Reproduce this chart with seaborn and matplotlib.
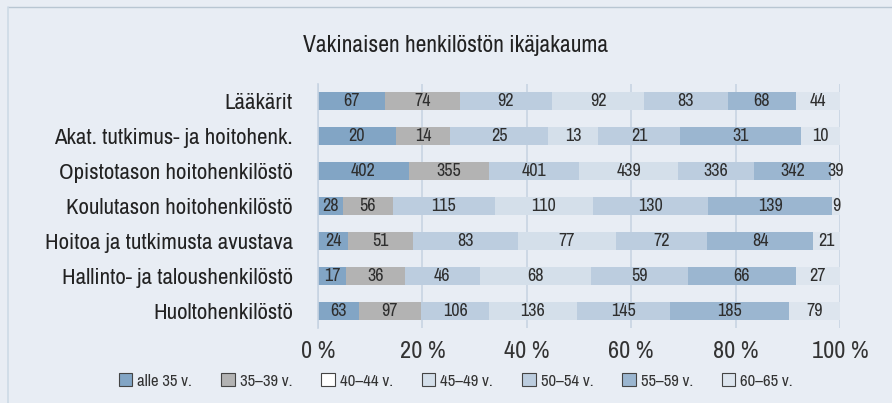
import matplotlib.pyplot as plt
import matplotlib.patches as mpatches
import numpy as np
import pandas as pd
import seaborn as sns

title = 'Vakinaisen henkilöstön ikäjakauma'
groups = ['Lääkärit', 'Akat. tutkimus- ja hoitohenk.', 'Opistotason hoitohenkilöstö',
          'Koulutason hoitohenkilöstö', 'Hoitoa ja tutkimusta avustava',
          'Hallinto- ja taloushenkilöstö', 'Huoltohenkilöstö']
ages = ['alle 35 v.', '35–39 v.', '40–44 v.', '45–49 v.', '50–54 v.', '55–59 v.', '60–65 v.']
alle35 = [67, 20, 402, 28, 24, 17, 63]
v35_39 = [74, 14, 355, 56, 51, 36, 97]
v40_44 = [92, 25, 401, 115, 83, 46, 106]
v45_49 = [92, 13, 439, 110, 77, 68, 136]
v50_54 = [83, 21, 336, 130, 72, 59, 145]
v55_59 = [68, 31, 342, 139, 84, 66, 185]
v60_65 = [44, 10, 39, 9, 21, 27, 79]
xticks = [0, 20, 40, 60, 80, 100]

colors = ['#82a5c5', '#b3b3b3', '#bccddf', '#d4dfea', '#bccddf', '#9bb6d0', '#dde5ee']
legend_colors = ['#82a5c5', '#b3b3b3', '#ffffff', '#d4dfea', '#bccddf', '#9bb6d0', '#dde5ee']
bg = '#e8edf4'
grid = '#c8d4e2'

counts = pd.DataFrame(dict(zip(ages, [alle35, v35_39, v40_44, v45_49, v50_54, v55_59, v60_65])),
                      index=groups)
share = counts.div(counts.sum(axis=1), axis=0) * 100
cum = share.cumsum(axis=1)

sns.set_style('white')
plt.rcParams['font.family'] = ['Archivo Narrow', 'DejaVu Sans']

fig = plt.figure(figsize=(8.92, 4.03), dpi=100, facecolor=bg)
ax = fig.add_axes([318 / 892, 1 - 328 / 403, 522 / 892, 244 / 403])
ax.set_facecolor(bg)

# overdraw cumulative bars, widest first
for age, col in reversed(list(zip(ages, colors))):
    d = pd.DataFrame({'group': groups, 'val': cum[age].values})
    sns.barplot(data=d, x='val', y='group', orient='h', color=col, width=0.52,
                saturation=1, ax=ax, zorder=2, linewidth=0)

for i, g in enumerate(groups):
    for age in ages:
        c = cum.loc[g, age] - share.loc[g, age] / 2
        ax.text(c, i, str(counts.loc[g, age]), ha='center', va='center',
                fontsize=13, color='#2e2e2e', zorder=3)

ax.set_xlim(0, 100)
ax.set_ylim(6.5, -0.5)
ax.set_xticks(xticks)
ax.set_xticklabels([f'{t} %' for t in xticks], fontsize=17.5, color='#333333')
ax.tick_params(axis='x', length=0, pad=9)
ax.set_yticks(range(len(groups)))
ax.set_yticklabels(groups, fontsize=16.5, color='#222222')
ax.tick_params(axis='y', which='major', length=0, pad=18)
ax.set_yticks(np.arange(-0.5, len(groups), 1), minor=True)
ax.tick_params(axis='y', which='minor', length=6, color=grid, width=1)
ax.set_xlabel('')
ax.set_ylabel('')
for x in xticks:
    ax.axvline(x, color=grid, lw=1.2, zorder=1)
for s in ['top', 'right', 'bottom']:
    ax.spines[s].set_visible(False)
ax.spines['left'].set_color(grid)
ax.spines['left'].set_linewidth(1.2)

fig.text(456 / 892, 1 - 45 / 403, title, ha='center', va='center', fontsize=17, color='#222222')

handles = [mpatches.Patch(facecolor=c, edgecolor='#444444', linewidth=0.8, label=a)
           for a, c in zip(ages, legend_colors)]
fig.legend(handles=handles, loc='center', bbox_to_anchor=(456 / 892, 1 - 381 / 403), ncol=7,
           frameon=False, fontsize=12, handlelength=0.8, handleheight=0.8,
           handletextpad=0.3, columnspacing=1.75, labelcolor='#333333')

# panel border: top and left edge only
fig.add_artist(plt.Line2D([8 / 892, 1], [1 - 7 / 403, 1 - 7 / 403], color='#b8c6d2', lw=1))
fig.add_artist(plt.Line2D([8 / 892, 8 / 892], [0, 1 - 7 / 403], color='#cddae6', lw=1.2))

fig.savefig('out.png', dpi=100, facecolor=bg)
